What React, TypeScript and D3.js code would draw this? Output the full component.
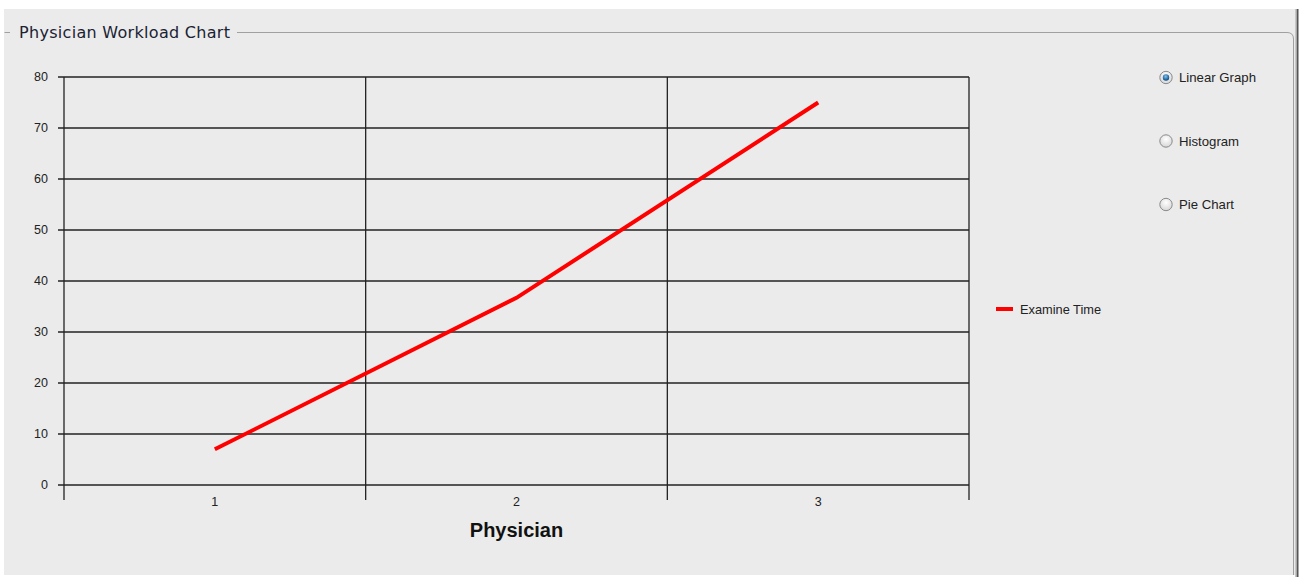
import React from "react";
import * as d3 from "d3";

const categories = ["1", "2", "3"];
const examineTime = [7, 36.7, 75];
const yTicks = [0, 10, 20, 30, 40, 50, 60, 70, 80];
const seriesName = "Examine Time";
const radioOptions = ["Linear Graph", "Histogram", "Pie Chart"];

const W = 1303;
const H = 577;
const plot = { left: 64, right: 969, top: 77, bottom: 485 };

export default function App() {
  const x = d3.scaleBand().domain(categories).range([plot.left, plot.right]);
  const y = d3.scaleLinear().domain([0, 80]).range([plot.bottom, plot.top]);
  const line = d3
    .line<number>()
    .x((_, i) => (x(categories[i]) as number) + x.bandwidth() / 2)
    .y((d) => y(d));
  const boundaries = [...categories.map((c) => x(c) as number), plot.right];
  const font = "'Liberation Sans', Arial, sans-serif";

  return (
    <svg
      width={W}
      height={H}
      style={{ position: "absolute", left: 0, top: 0, display: "block" }}
    >
      <rect x={0} y={0} width={W} height={H} fill="#ffffff" />
      <rect x={4} y={9} width={1292} height={566} fill="#ebebeb" />
      {/* group box */}
      <path
        d="M4.5,32.5 H10 M237,32.5 H1287 Q1293.5,32.5 1293.5,39 V575"
        fill="none"
        stroke="#a0a0a0"
        strokeWidth={1}
      />
      <line x1={1295.5} y1={9} x2={1295.5} y2={577} stroke="#c8c8c8" />
      <line x1={1297.5} y1={9} x2={1297.5} y2={577} stroke="#555" strokeWidth={2} />
      <text
        x={19}
        y={38}
        fontFamily="'DejaVu Sans', Tahoma, sans-serif"
        fontSize={16}
        textLength={211}
        lengthAdjust="spacing"
        fill="#1a2233"
      >
        Physician Workload Chart
      </text>

      {/* horizontal grid */}
      {yTicks.map((t) => (
        <g key={t}>
          <line
            x1={plot.left - 6}
            x2={plot.right}
            y1={y(t)}
            y2={y(t)}
            stroke="#222"
            strokeWidth={1.3}
          />
          <text
            x={48}
            y={y(t)}
            dy="0.35em"
            textAnchor="end"
            fontFamily={font}
            fontSize={12.5}
            fill="#222"
          >
            {t}
          </text>
        </g>
      ))}
      {/* vertical grid */}
      {boundaries.map((b, i) => (
        <line
          key={i}
          x1={b}
          x2={b}
          y1={plot.top}
          y2={plot.bottom + 15}
          stroke="#222"
          strokeWidth={1.3}
        />
      ))}
      {categories.map((c) => (
        <text
          key={c}
          x={(x(c) as number) + x.bandwidth() / 2}
          y={505.5}
          textAnchor="middle"
          fontFamily={font}
          fontSize={12.5}
          fill="#222"
        >
          {c}
        </text>
      ))}
      <text
        x={(plot.left + plot.right) / 2}
        y={536.5}
        textAnchor="middle"
        fontFamily={font}
        fontSize={20}
        fontWeight="bold"
        fill="#111"
      >
        Physician
      </text>

      <path
        d={line(examineTime) || ""}
        fill="none"
        stroke="#ff0000"
        strokeWidth={4}
      />

      {/* legend */}
      <line x1={996} x2={1013} y1={309} y2={309} stroke="#ff0000" strokeWidth={4} />
      <text x={1020} y={313.5} fontFamily={font} fontSize={12.8} fill="#222">
        {seriesName}
      </text>

      {/* radio buttons */}
      <defs>
        <radialGradient id="rb" cx="50%" cy="35%" r="65%">
          <stop offset="0%" stopColor="#ffffff" />
          <stop offset="100%" stopColor="#d6d6d6" />
        </radialGradient>
        <radialGradient id="rbSel" cx="45%" cy="35%" r="60%">
          <stop offset="0%" stopColor="#7fc4f0" />
          <stop offset="100%" stopColor="#0b4f8a" />
        </radialGradient>
      </defs>
      {radioOptions.map((o, i) => {
        const cy = 77.5 + i * 63.5;
        return (
          <g key={o}>
            <circle cx={1166} cy={cy} r={6.2} fill="url(#rb)" stroke="#8a8a8a" strokeWidth={1} />
            {i === 0 && <circle cx={1166} cy={cy} r={3.2} fill="url(#rbSel)" />}
            <text x={1179} y={cy + 4.5} fontFamily={font} fontSize={13.2} fill="#222">
              {o}
            </text>
          </g>
        );
      })}
    </svg>
  );
}
